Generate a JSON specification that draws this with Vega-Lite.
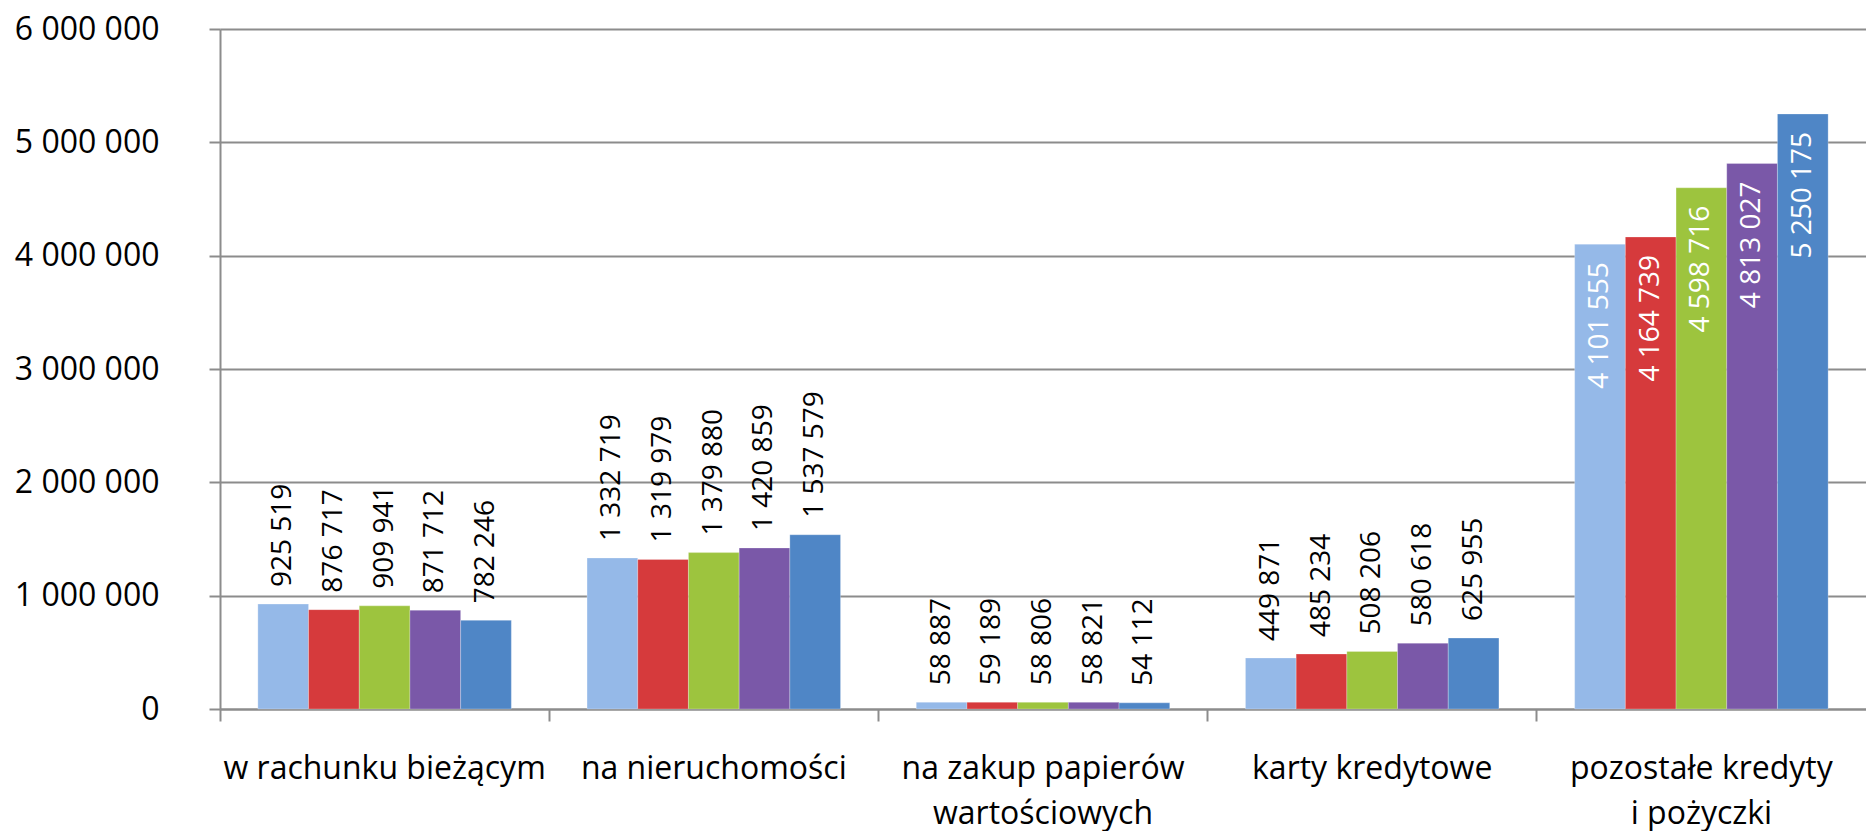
{
  "$schema": "https://vega.github.io/schema/vega-lite/v6.json",
  "autosize": "none",
  "padding": {"left": 220, "top": 29, "right": 0, "bottom": 122},
  "width": 1646,
  "height": 680,
  "background": "white",
  "config": {
    "view": {"stroke": null},
    "locale": {"number": {"decimal": ",", "thousands": " ", "grouping": [3], "currency": ["", " zł"]}},
    "font": "Open Sans"
  },
  "resolve": {"axis": {"x": "independent"}},
  "data": {
    "values": [
      {"kategoria": "w rachunku bieżącym", "seria": "s1", "wartosc": 925519},
      {"kategoria": "w rachunku bieżącym", "seria": "s2", "wartosc": 876717},
      {"kategoria": "w rachunku bieżącym", "seria": "s3", "wartosc": 909941},
      {"kategoria": "w rachunku bieżącym", "seria": "s4", "wartosc": 871712},
      {"kategoria": "w rachunku bieżącym", "seria": "s5", "wartosc": 782246},
      {"kategoria": "na nieruchomości", "seria": "s1", "wartosc": 1332719},
      {"kategoria": "na nieruchomości", "seria": "s2", "wartosc": 1319979},
      {"kategoria": "na nieruchomości", "seria": "s3", "wartosc": 1379880},
      {"kategoria": "na nieruchomości", "seria": "s4", "wartosc": 1420859},
      {"kategoria": "na nieruchomości", "seria": "s5", "wartosc": 1537579},
      {"kategoria": "na zakup papierów wartościowych", "seria": "s1", "wartosc": 58887},
      {"kategoria": "na zakup papierów wartościowych", "seria": "s2", "wartosc": 59189},
      {"kategoria": "na zakup papierów wartościowych", "seria": "s3", "wartosc": 58806},
      {"kategoria": "na zakup papierów wartościowych", "seria": "s4", "wartosc": 58821},
      {"kategoria": "na zakup papierów wartościowych", "seria": "s5", "wartosc": 54112},
      {"kategoria": "karty kredytowe", "seria": "s1", "wartosc": 449871},
      {"kategoria": "karty kredytowe", "seria": "s2", "wartosc": 485234},
      {"kategoria": "karty kredytowe", "seria": "s3", "wartosc": 508206},
      {"kategoria": "karty kredytowe", "seria": "s4", "wartosc": 580618},
      {"kategoria": "karty kredytowe", "seria": "s5", "wartosc": 625955},
      {"kategoria": "pozostałe kredyty i pożyczki", "seria": "s1", "wartosc": 4101555},
      {"kategoria": "pozostałe kredyty i pożyczki", "seria": "s2", "wartosc": 4164739},
      {"kategoria": "pozostałe kredyty i pożyczki", "seria": "s3", "wartosc": 4598716},
      {"kategoria": "pozostałe kredyty i pożyczki", "seria": "s4", "wartosc": 4813027},
      {"kategoria": "pozostałe kredyty i pożyczki", "seria": "s5", "wartosc": 5250175}
    ]
  },
  "encoding": {
    "xOffset": {"field": "seria", "type": "nominal", "sort": null},
    "y": {
      "field": "wartosc",
      "type": "quantitative",
      "scale": {"domain": [0, 6000000], "nice": false},
      "axis": {
        "title": null,
        "values": [0, 1000000, 2000000, 3000000, 4000000, 5000000, 6000000],
        "format": ",d",
        "labelFont": "Open Sans",
        "labelFontSize": 32,
        "labelColor": "#000000",
        "labelPadding": 50,
        "tickSize": 11,
        "tickColor": "#8c8c8c",
        "tickWidth": 2,
        "domainColor": "#8c8c8c",
        "domainWidth": 2,
        "grid": true,
        "gridColor": "#8c8c8c",
        "gridWidth": 2
      }
    }
  },
  "layer": [
    {
      "mark": {"type": "bar", "stroke": "#ffffff", "strokeOpacity": 0.25, "strokeWidth": 1},
      "encoding": {
        "x": {
          "field": "kategoria",
          "type": "nominal",
          "sort": null,
          "scale": {"paddingInner": 0.23, "paddingOuter": 0.115},
          "axis": {
            "title": null,
            "orient": "bottom",
            "labelAngle": 0,
            "labelFont": "Open Sans",
            "labelFontSize": 32,
            "labelColor": "#000000",
            "labelPadding": 44,
            "labelLineHeight": 45,
            "labelBaseline": "top",
            "labelLimit": 0,
            "labelOverlap": false,
            "ticks": false,
            "domain": true,
            "domainColor": "#8c8c8c",
            "domainWidth": 2,
            "labelExpr": "datum.label == 'na zakup papierów wartościowych' ? ['na zakup papierów', 'wartościowych'] : datum.label == 'pozostałe kredyty i pożyczki' ? ['pozostałe kredyty', 'i pożyczki'] : datum.label"
          }
        },
        "color": {
          "field": "seria",
          "type": "nominal",
          "sort": null,
          "legend": null,
          "scale": {"range": ["#95b9e8", "#d63a3c", "#9dc43e", "#7a58a8", "#4f86c6"]}
        }
      }
    },
    {
      "mark": {"type": "rule", "opacity": 0},
      "encoding": {
        "x": {
          "field": "kategoria",
          "type": "nominal",
          "sort": null,
          "axis": {
            "title": null,
            "orient": "bottom",
            "labels": false,
            "ticks": true,
            "tickSize": 12,
            "tickColor": "#8c8c8c",
            "tickWidth": 2,
            "domain": false,
            "grid": false,
            "bandPosition": -0.149
          }
        }
      }
    },
    {
      "transform": [{"filter": "datum.kategoria != 'pozostałe kredyty i pożyczki'"}],
      "mark": {"type": "text", "angle": 270, "align": "left", "baseline": "middle", "dx": 17, "fontSize": 28, "font": "Open Sans", "color": "#000000"},
      "encoding": {
        "x": {"field": "kategoria", "type": "nominal", "sort": null, "axis": null},
        "text": {"field": "wartosc", "type": "quantitative", "format": ",d"}
      }
    },
    {
      "transform": [{"filter": "datum.kategoria == 'pozostałe kredyty i pożyczki'"}],
      "mark": {"type": "text", "angle": 270, "align": "right", "baseline": "middle", "dx": -18, "fontSize": 28, "font": "Open Sans", "color": "#ffffff"},
      "encoding": {
        "x": {"field": "kategoria", "type": "nominal", "sort": null, "axis": null},
        "text": {"field": "wartosc", "type": "quantitative", "format": ",d"}
      }
    }
  ]
}
